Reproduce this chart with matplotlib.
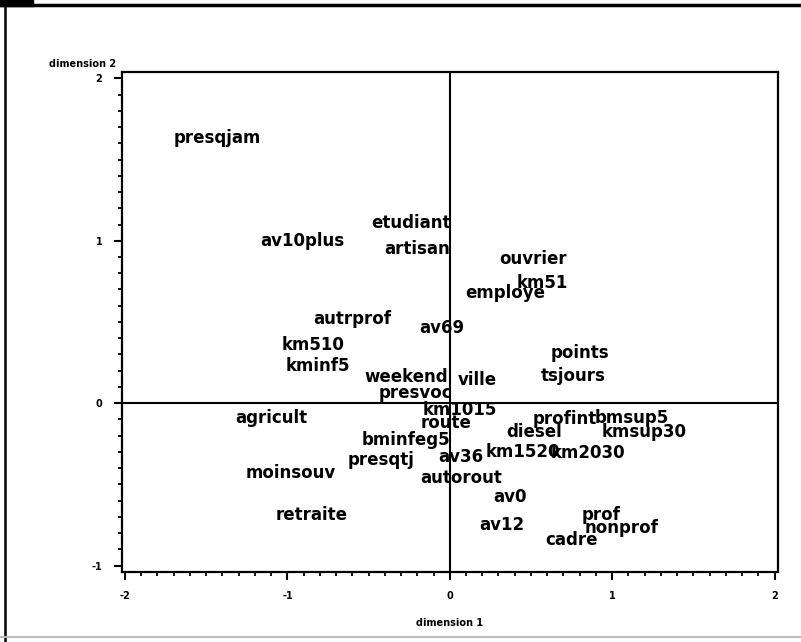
import matplotlib
matplotlib.use("Agg")
import matplotlib.pyplot as plt
from matplotlib.ticker import MultipleLocator, FixedLocator
from matplotlib.lines import Line2D
from matplotlib.patches import Rectangle

# Category labels and coordinates (dimension 1, dimension 2)
labels = ["presqjam", "av10plus", "etudiant", "artisan", "ouvrier", "km51",
          "employe", "autrprof", "av69", "km510", "kminf5", "weekend",
          "ville", "presvoc", "points", "tsjours", "km1015", "route",
          "agricult", "bminfeg5", "presqtj", "moinsouv", "retraite", "av36",
          "km1520", "km2030", "autorout", "av0", "av12", "prof", "nonprof",
          "cadre", "profint", "bmsup5", "kmsup30", "diesel"]
dim1 = [-1.43, -0.91, -0.24, -0.20, 0.51, 0.57,
        0.34, -0.60, -0.05, -0.84, -0.81, -0.27,
        0.17, -0.21, 0.80, 0.76, 0.06, -0.02,
        -1.10, -0.27, -0.42, -0.98, -0.85, 0.07,
        0.45, 0.85, 0.07, 0.37, 0.32, 0.93, 1.06,
        0.75, 0.71, 1.12, 1.20, 0.52]
dim2 = [1.63, 1.00, 1.11, 0.95, 0.89, 0.74,
        0.68, 0.52, 0.46, 0.36, 0.23, 0.16,
        0.14, 0.06, 0.31, 0.17, -0.04, -0.12,
        -0.09, -0.23, -0.35, -0.43, -0.69, -0.33,
        -0.30, -0.31, -0.46, -0.58, -0.75, -0.69, -0.77,
        -0.84, -0.10, -0.09, -0.18, -0.18]

x_ticks = [-2, -1, 0, 1, 2]
y_ticks = [-1, 0, 1, 2]
x_ticklabels = ["-2", "-1", "0", "1", "2"]
y_ticklabels = ["-1", "0", "1", "2"]

fig = plt.figure(figsize=(8.01, 6.42), dpi=100)
fig.patch.set_facecolor("white")

# outer frame of the scanned page
fig.add_artist(Line2D([0.0, 1.0], [0.9925, 0.9925], color="black", lw=2.5,
                      transform=fig.transFigure))
fig.add_artist(Line2D([0.0065, 0.0065], [0.0, 0.9925], color="black", lw=1.8,
                      transform=fig.transFigure))
fig.add_artist(Line2D([0.0, 1.0], [0.008, 0.008], color="#bbbbbb", lw=1.5,
                      transform=fig.transFigure))
fig.add_artist(Rectangle((0.0, 0.99), 0.041, 0.01, color="black",
                         transform=fig.transFigure))

ax = fig.add_axes([0.152, 0.109, 0.819, 0.779])
ax.set_xlim(-2.02, 2.02)
ax.set_ylim(-1.04, 2.04)

for s in ax.spines.values():
    s.set_linewidth(1.6)
    s.set_color("black")

ax.axhline(0, color="black", lw=1.5)
ax.axvline(0, color="black", lw=1.5)

for lab, x, y in zip(labels, dim1, dim2):
    ax.text(x, y, lab, ha="center", va="center", fontsize=12,
            fontweight="bold", family="DejaVu Sans", color="black")

ax.xaxis.set_major_locator(FixedLocator(x_ticks))
ax.yaxis.set_major_locator(FixedLocator(y_ticks))
ax.xaxis.set_minor_locator(MultipleLocator(0.1))
ax.yaxis.set_minor_locator(MultipleLocator(0.1))
ax.set_xticklabels(x_ticklabels)
ax.set_yticklabels(y_ticklabels)
ax.tick_params(which="major", direction="out", length=6, width=1.5,
               labelsize=7, top=False, right=False, pad=8)
ax.tick_params(which="minor", direction="out", length=3, width=1.3,
               top=False, right=False)
for t in ax.get_xticklabels() + ax.get_yticklabels():
    t.set_fontweight("bold")

ax.set_xlabel("dimension 1", fontsize=7, fontweight="bold", labelpad=12)
fig.text(0.145, 0.893, "dimension 2", fontsize=7, fontweight="bold",
         ha="right", va="bottom")

fig.savefig("out.png", dpi=100)
